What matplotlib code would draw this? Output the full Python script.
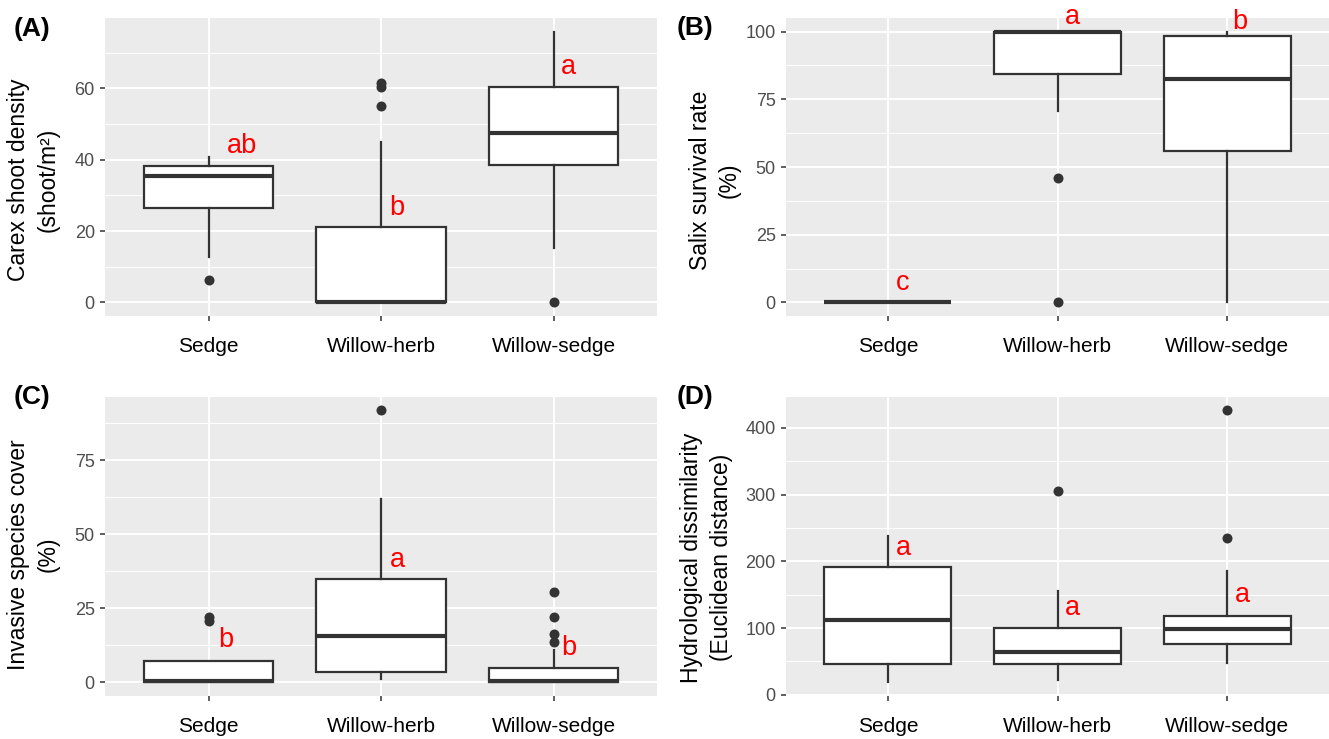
import matplotlib
matplotlib.use("Agg")
import matplotlib.pyplot as plt
from matplotlib.ticker import MultipleLocator

plt.rcParams["font.family"] = ["Liberation Sans", "DejaVu Sans"]

groups = ["Sedge", "Willow-herb", "Willow-sedge"]

# (A) Carex shoot density
carex_q1 = [26.6, 0.0, 38.5]
carex_med = [35.4, 0.0, 47.4]
carex_q3 = [38.3, 21.1, 60.5]
carex_lo = [12.7, 0.0, 15.3]
carex_hi = [40.8, 44.9, 75.9]
carex_out = [[6.3], [55.0, 60.3, 61.4], [0.0]]
carex_letters = ["ab", "b", "a"]
carex_letter_y = [43.9, 26.6, 66.1]

# (B) Salix survival rate
salix_q1 = [0.0, 84.5, 56.0]
salix_med = [0.0, 100.0, 82.6]
salix_q3 = [0.0, 100.0, 98.5]
salix_lo = [0.0, 70.7, 0.0]
salix_hi = [0.0, 100.0, 100.0]
salix_out = [[], [46.0, 0.0], []]
salix_letters = ["c", "a", "b"]
salix_letter_y = [7.0, 105.2, 103.4]

# (C) Invasive species cover
inv_q1 = [0.0, 3.6, 0.0]
inv_med = [0.5, 15.7, 0.5]
inv_q3 = [7.3, 34.8, 4.7]
inv_lo = [0.0, 1.0, 0.0]
inv_hi = [7.3, 61.8, 10.9]
inv_out = [[20.8, 22.1], [91.8], [13.5, 16.2, 21.9, 30.4]]
inv_letters = ["b", "a", "b"]
inv_letter_y = [14.3, 41.2, 11.7]

# (D) Hydrological dissimilarity
hyd_q1 = [45.5, 45.5, 75.5]
hyd_med = [112.0, 64.0, 98.9]
hyd_q3 = [190.8, 100.4, 118.4]
hyd_lo = [18.5, 22.0, 48.0]
hyd_hi = [237.7, 155.8, 184.8]
hyd_out = [[], [305.6], [234.3, 426.5]]
hyd_letters = ["a", "a", "a"]
hyd_letter_y = [219.3, 129.4, 149.4]

dark = "#333333"
fig = plt.figure(figsize=(13.29, 7.39), dpi=100)


def panel(rect, q1, med, q3, lo, hi, out, letters, letter_y, letter_dx,
          step, ylabel, tag, tag_xy, label_xy):
    ax = fig.add_axes(rect)
    stats = []
    for i in range(len(groups)):
        stats.append(dict(q1=q1[i], med=med[i], q3=q3[i], whislo=lo[i],
                          whishi=hi[i], fliers=out[i]))
    ax.bxp(stats, positions=[1, 2, 3], widths=0.75, patch_artist=True,
           showcaps=False,
           boxprops=dict(facecolor="white", edgecolor=dark, linewidth=1.6),
           medianprops=dict(color=dark, linewidth=3.0, solid_capstyle="butt"),
           whiskerprops=dict(color=dark, linewidth=1.6),
           flierprops=dict(marker="o", markerfacecolor=dark,
                           markeredgecolor="none", markersize=7.2))
    vals = lo + hi + [v for f in out for v in f]
    span = max(vals) - min(vals)
    ax.set_ylim(min(vals) - 0.05 * span, max(vals) + 0.05 * span)
    ax.set_xlim(0.4, 3.6)
    ax.set_xticks([1, 2, 3])
    ax.set_xticklabels(groups, fontsize=15, color="black")
    ax.yaxis.set_major_locator(MultipleLocator(step))
    ax.yaxis.set_minor_locator(MultipleLocator(step / 2))
    ax.set_facecolor("#EBEBEB")
    ax.set_axisbelow(True)
    ax.grid(which="major", color="white", linewidth=1.4)
    ax.grid(which="minor", axis="y", color="white", linewidth=0.7)
    for s in ax.spines.values():
        s.set_visible(False)
    ax.tick_params(axis="both", which="major", color=dark, length=3.8, width=1.1)
    ax.tick_params(axis="x", pad=11)
    ax.tick_params(axis="y", pad=3.5, labelsize=13, labelcolor="#4D4D4D")
    ax.tick_params(which="minor", length=0)
    for i, t in enumerate(letters):
        ax.text(i + 1 + letter_dx[i], letter_y[i], t, color="red",
                fontsize=19.5, ha="center", va="center")
    ax.set_ylabel(ylabel, fontsize=16.5, color="black", linespacing=1.35)
    ax.yaxis.set_label_coords(*label_xy)
    fig.text(tag_xy[0] / 1329, 1 - tag_xy[1] / 739, tag, fontsize=19,
             fontweight="bold", ha="left", va="center")
    return ax


top_b = 1 - 316 / 739
bot_b = 1 - 696 / 739
panel([105 / 1329, top_b, 552 / 1329, 298 / 739],
      carex_q1, carex_med, carex_q3, carex_lo, carex_hi, carex_out,
      carex_letters, carex_letter_y, [0.197, 0.093, 0.087], 20,
      "Carex shoot density\n(shoot/m²)", "(A)", (14, 29), (-0.082, 0.456))
panel([786 / 1329, top_b, 543 / 1329, 298 / 739],
      salix_q1, salix_med, salix_q3, salix_lo, salix_hi, salix_out,
      salix_letters, salix_letter_y, [0.09, 0.09, 0.075], 25,
      "Salix survival rate\n(%)", "(B)", (677, 28), (-0.083, 0.456))
panel([105 / 1329, bot_b, 552 / 1329, 299.3 / 739],
      inv_q1, inv_med, inv_q3, inv_lo, inv_hi, inv_out,
      inv_letters, inv_letter_y, [0.098, 0.093, 0.09], 25,
      "Invasive species cover\n(%)", "(C)", (14, 397), (-0.083, 0.474))
panel([786 / 1329, bot_b, 543 / 1329, 299.3 / 739],
      hyd_q1, hyd_med, hyd_q3, hyd_lo, hyd_hi, hyd_out,
      hyd_letters, hyd_letter_y, [0.095, 0.09, 0.087], 100,
      "Hydrological dissimilarity\n(Euclidean distance)", "(D)", (677, 397),
      (-0.098, 0.463))

fig.savefig("out.png", dpi=100)
